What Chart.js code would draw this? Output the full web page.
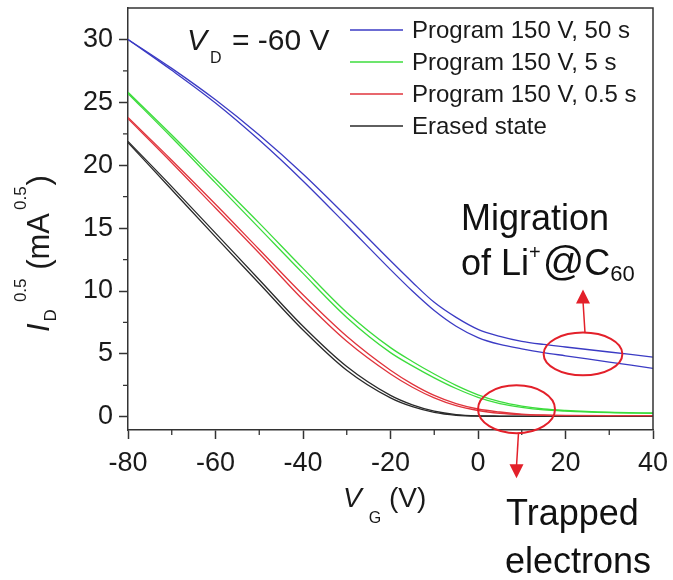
<!DOCTYPE html>
<html><head><meta charset="utf-8">
<script src="https://cdn.jsdelivr.net/npm/chart.js@4.4.1/dist/chart.umd.min.js"></script>
<style>html,body{margin:0;padding:0;background:#fff;}#wrap{width:673px;height:580px;}</style>
</head><body><div id="wrap"><canvas id="c" width="673" height="580"></canvas></div>
<script>
// ---- data ----
const vG = [-80,-70,-60,-50,-40,-30,-20,-15,-10,-5,0,5,10,15,20,30,40];
const seriesNames = ['Program 150 V, 50 s','Program 150 V, 5 s','Program 150 V, 0.5 s','Erased state'];
const blueSweepA  = [30.0,27.7,25.2,22.4,19.3,15.9,12.4,10.7,9.1,7.9,6.95,6.4,6.0,5.75,5.55,5.15,4.75];
const blueSweepB  = [30.0,27.55,24.95,22.0,18.75,15.25,11.7,10.0,8.45,7.2,6.3,5.75,5.4,5.1,4.85,4.35,3.85];
const greenSweepA = [25.8,22.4,18.9,15.4,11.8,8.3,5.5,4.4,3.4,2.5,1.75,1.2,0.85,0.62,0.5,0.36,0.3];
const greenSweepB = [25.7,22.2,18.6,15.0,11.4,7.9,5.1,4.05,3.1,2.25,1.55,1.05,0.75,0.55,0.45,0.33,0.27];
const redSweepA   = [23.8,20.4,16.9,13.3,9.7,6.4,3.7,2.6,1.7,1.05,0.62,0.38,0.22,0.15,0.12,0.1,0.1];
const redSweepB   = [23.7,20.2,16.6,13.0,9.3,6.0,3.4,2.35,1.5,0.88,0.5,0.28,0.17,0.12,0.1,0.1,0.1];
const blackSweepA = [21.9,18.3,14.6,10.9,7.2,4.0,1.7,0.95,0.45,0.18,0.08,0.06,0.05,0.05,0.05,0.05,0.05];
const blackSweepB = [21.8,18.05,14.3,10.6,6.9,3.7,1.5,0.8,0.35,0.12,0.05,0.04,0.04,0.04,0.04,0.04,0.04];
const xTickValues = [-80,-60,-40,-20,0,20,40];
const yTickValues = [0,5,10,15,20,25,30];
const xMinorTicks = [-70,-50,-30,-10,10,30];
const yMinorTicks = [2.5,7.5,12.5,17.5,22.5,27.5];

// ---- styling ----
const COLORS = ['#3b3bc4','#3cdc3c','#e0343c','#2a2a2a'];
const RED = '#e3202a';
const FONT = '"Liberation Sans", Arial, Helvetica, sans-serif';
const TXT = '#1a1a1a';
function fnt(size, italic){ return (italic ? 'italic ' : '') + size + 'px ' + FONT; }
function pts(arr){ return vG.map((v,i)=>({x:v, y:arr[i]})); }

const sweeps = [[blueSweepA,blueSweepB],[greenSweepA,greenSweepB],[redSweepA,redSweepB],[blackSweepA,blackSweepB]];
const datasets = [];
sweeps.forEach((pair, k) => {
  pair.forEach(arr => datasets.push({
    label: seriesNames[k], data: pts(arr), borderColor: COLORS[k], backgroundColor: COLORS[k],
    borderWidth: 1.3, pointRadius: 0, fill: false, cubicInterpolationMode: 'monotone'
  }));
});

function drawParts(ctx, x, y, parts){
  let cx = x;
  for (const p of parts){
    if (p.gap) cx += p.gap;
    ctx.font = fnt(p.size, p.italic);
    ctx.fillText(p.t, cx, y + (p.dy || 0));
    cx += ctx.measureText(p.t).width;
  }
}
function arrowHead(ctx, tx, ty, dir, w, h){
  ctx.beginPath();
  ctx.moveTo(tx, ty);
  ctx.lineTo(tx - w/2, ty - dir*h);
  ctx.lineTo(tx + w/2, ty - dir*h);
  ctx.closePath(); ctx.fill();
}

const decor = {
  id: 'decor',
  afterDraw(chart){
    const {ctx, chartArea: a, scales: {x, y}} = chart;
    ctx.save();
    // frame (top/right)
    ctx.strokeStyle = '#333'; ctx.lineWidth = 1.5;
    ctx.beginPath(); ctx.moveTo(a.left, a.top); ctx.lineTo(a.right, a.top); ctx.lineTo(a.right, a.bottom); ctx.stroke();
    // minor ticks
    ctx.lineWidth = 1.3;
    ctx.beginPath();
    xMinorTicks.forEach(v => { const px = x.getPixelForValue(v); ctx.moveTo(px, a.bottom); ctx.lineTo(px, a.bottom + 5); });
    yMinorTicks.forEach(v => { const py = y.getPixelForValue(v); ctx.moveTo(a.left - 5, py); ctx.lineTo(a.left, py); });
    ctx.stroke();

    ctx.fillStyle = TXT; ctx.textBaseline = 'alphabetic'; ctx.textAlign = 'left';
    // x axis title
    drawParts(ctx, 343, 507, [{t:'V', size:28, italic:true}, {t:'G', size:16, dy:16, gap:7}, {t:' (V)', size:28}]);
    // y axis title (rotated)
    ctx.save();
    ctx.translate(49, 332); ctx.rotate(-Math.PI/2);
    drawParts(ctx, 0, 0, [{t:'I', size:31, italic:true}, {t:'D', size:17, dy:7, gap:2}, {t:'0.5', size:17, dy:-23, gap:7},
                          {t:' (mA', size:31}, {t:'0.5', size:17, dy:-23, gap:3}, {t:')', size:31, gap:1}]);
    ctx.restore();
    // V_D label
    drawParts(ctx, 187, 50, [{t:'V', size:30, italic:true}, {t:'D', size:16, dy:13, gap:3}, {t:' = -60 V', size:30, gap:2}]);

    // legend
    seriesNames.forEach((name, k) => {
      const ly = 30 + k*32;
      ctx.strokeStyle = COLORS[k]; ctx.lineWidth = 1.3;
      ctx.beginPath(); ctx.moveTo(350, ly); ctx.lineTo(403, ly); ctx.stroke();
      ctx.fillStyle = TXT; ctx.font = fnt(24);
      ctx.fillText(name, 412, ly + 8);
    });

    // annotations
    ctx.fillStyle = '#111';
    ctx.font = fnt(36);
    ctx.fillText('Migration', 461, 230);
    drawParts(ctx, 461, 275, [{t:'of Li', size:36}, {t:'+', size:20, dy:-16}, {t:'@', size:41, gap:2}, {t:'C', size:36}, {t:'60', size:22, dy:6}]);
    ctx.font = fnt(36);
    ctx.fillText('Trapped', 506, 525);
    ctx.fillText('electrons', 505, 573);

    // ellipses in data coordinates
    ctx.strokeStyle = RED; ctx.fillStyle = RED; ctx.lineWidth = 2;
    const ells = [{cx:8.8, cy:0.6, rx:8.8, ry:1.9, dir:1, len:45}, {cx:24.0, cy:5.0, rx:9.0, ry:1.7, dir:-1, len:43}];
    ells.forEach(e => {
      const px = x.getPixelForValue(e.cx), py = y.getPixelForValue(e.cy);
      const rxp = Math.abs(x.getPixelForValue(e.cx + e.rx) - px);
      const ryp = Math.abs(y.getPixelForValue(e.cy + e.ry) - py);
      ctx.beginPath(); ctx.ellipse(px, py, rxp, ryp, 0, 0, Math.PI*2); ctx.stroke();
      const sy = py + e.dir*ryp;
      const ty = sy + e.dir*e.len;
      ctx.lineWidth = 1.5;
      ctx.beginPath(); ctx.moveTo(px + 2, sy); ctx.lineTo(px, ty - e.dir*12); ctx.stroke();
      arrowHead(ctx, px, ty, e.dir, 14, 14);
      ctx.lineWidth = 2;
    });
    ctx.restore();
  }
};

new Chart(document.getElementById('c'), {
  type: 'line',
  data: { datasets },
  options: {
    responsive: false, animation: false, devicePixelRatio: 1,
    layout: { padding: { top: 8, right: 20, left: 0, bottom: 0 } },
    plugins: { legend: { display: false }, tooltip: { enabled: false } },
    scales: {
      x: {
        type: 'linear', min: -80, max: 40,
        afterBuildTicks: s => { s.ticks = xTickValues.map(v => ({value: v})); },
        afterFit: s => { s.height = 150; s.paddingLeft = 0; s.paddingRight = 0; },
        ticks: { font: { family: FONT, size: 27 }, color: TXT, padding: 8, maxRotation: 0, autoSkip: false },
        grid: { drawOnChartArea: false, drawTicks: true, tickLength: 9, tickWidth: 1.5, tickColor: '#333' },
        border: { display: true, color: '#333', width: 1.5 }
      },
      y: {
        type: 'linear', min: -1.05, max: 32.5,
        afterBuildTicks: s => { s.ticks = yTickValues.map(v => ({value: v})); },
        afterFit: s => { s.width = 128; s.paddingTop = 0; s.paddingBottom = 0; },
        ticks: { font: { family: FONT, size: 27 }, color: TXT, padding: 6, autoSkip: false },
        grid: { drawOnChartArea: false, drawTicks: true, tickLength: 9, tickWidth: 1.5, tickColor: '#333' },
        border: { display: true, color: '#333', width: 1.5 }
      }
    }
  },
  plugins: [decor]
});
</script>
</body></html>
